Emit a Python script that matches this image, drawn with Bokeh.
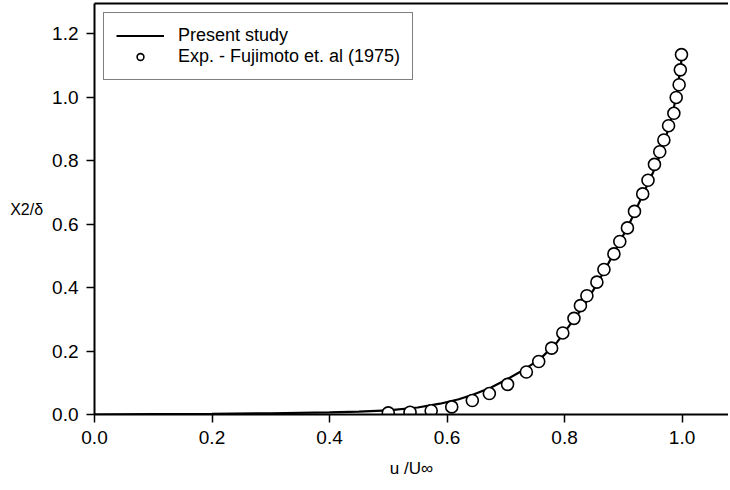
from bokeh.plotting import figure
from bokeh.models import (Range1d, LinearAxis, FixedTicker, PrintfTickFormatter,
                          Legend, LegendItem)
from bokeh.embed import file_html
from bokeh.resources import INLINE

# ---- data ----
line_x = [0.0, 0.1, 0.2, 0.3, 0.4, 0.45, 0.5, 0.55, 0.588, 0.62, 0.645, 0.675,
          0.702, 0.73, 0.759, 0.787, 0.81, 0.83, 0.85, 0.87, 0.89, 0.91, 0.93,
          0.95, 0.965, 0.98, 0.99, 1.0]
line_y = [0.0, 0.001, 0.002, 0.004, 0.007, 0.009, 0.013, 0.022, 0.034, 0.048,
          0.063, 0.085, 0.111, 0.140, 0.176, 0.227, 0.285, 0.335, 0.395, 0.46,
          0.53, 0.60, 0.68, 0.76, 0.83, 0.92, 1.0, 1.13]

exp_x = [0.500, 0.537, 0.573, 0.608, 0.643, 0.672, 0.703, 0.735, 0.756, 0.778,
         0.797, 0.816, 0.827, 0.838, 0.855, 0.867, 0.884, 0.894, 0.907, 0.919,
         0.933, 0.942, 0.953, 0.962, 0.969, 0.977, 0.986, 0.990, 0.995, 0.997,
         0.999]
exp_y = [0.005, 0.007, 0.012, 0.024, 0.044, 0.066, 0.095, 0.134, 0.167, 0.209,
         0.257, 0.303, 0.343, 0.374, 0.417, 0.457, 0.506, 0.545, 0.588, 0.640,
         0.695, 0.738, 0.788, 0.828, 0.865, 0.910, 0.949, 0.999, 1.039, 1.086,
         1.134]

x_ticks = [0.0, 0.2, 0.4, 0.6, 0.8, 1.0]
y_ticks = [0.0, 0.2, 0.4, 0.6, 0.8, 1.0, 1.2]

series_names = ["Present study", "Exp. - Fujimoto et. al (1975)"]
x_label = "u /U\u221e"
y_label = "X2/\u03b4"

FONT = "Liberation Sans"
W, H = 728, 488
BL, BB, BT = 94, 74, 3

p = figure(width=W, height=H, output_backend="svg", toolbar_location=None,
           x_range=Range1d(0, 1.079), y_range=Range1d(0, 1.295),
           min_border_left=BL, min_border_right=0, min_border_top=BT,
           min_border_bottom=BB)
p.xgrid.visible = False
p.ygrid.visible = False
p.outline_line_color = None
p.background_fill_color = "white"
p.border_fill_color = "white"

for ax, ticks in ((p.xaxis[0], x_ticks), (p.yaxis[0], y_ticks)):
    ax.ticker = FixedTicker(ticks=ticks)
    ax.formatter = PrintfTickFormatter(format="%.1f")
    ax.axis_line_width = 2
    ax.axis_line_color = "black"
    ax.major_tick_line_width = 1.5
    ax.major_tick_line_color = "black"
    ax.major_tick_out = 8
    ax.major_tick_in = 0
    ax.minor_tick_line_color = None
    ax.major_label_text_font = FONT
    ax.major_label_text_font_size = "19px"
    ax.major_label_text_color = "black"
    ax.major_label_standoff = 8
    ax.axis_label_text_font = FONT
    ax.axis_label_text_font_style = "normal"
    ax.axis_label_text_color = "black"

p.xaxis[0].axis_label = x_label
p.xaxis[0].axis_label_text_font_size = "17px"
p.xaxis[0].axis_label_standoff = 12

p.yaxis[0].axis_label = y_label
p.yaxis[0].axis_label_text_font_size = "16px"
p.yaxis[0].axis_label_orientation = "horizontal"
p.yaxis[0].axis_label_standoff = 6
p.yaxis[0].axis_label_text_baseline = "bottom"

top = LinearAxis(ticker=FixedTicker(ticks=[]), major_label_text_font_size="0px",
                 axis_line_width=2, axis_line_color="black",
                 major_tick_line_color=None, minor_tick_line_color=None,
                 major_tick_out=0, major_tick_in=0, minor_tick_out=0,
                 minor_tick_in=0, major_label_standoff=0, axis_label_standoff=0)
p.add_layout(top, "above")

p.line(line_x, line_y, line_color="black", line_width=2.2)
p.scatter(exp_x, exp_y, marker="circle", size=12, fill_color="white",
          line_color="black", line_width=1.6)

# legend-only renderers (placed outside the visible ranges)
leg_line = p.line([-2, -1], [-2, -1], line_color="black", line_width=2.2)
leg_circ = p.scatter([-2], [-2], marker="circle", size=8, fill_color="white",
                     line_color="black", line_width=1.6)

legend = Legend(items=[LegendItem(label=series_names[0], renderers=[leg_line]),
                       LegendItem(label=series_names[1], renderers=[leg_circ])],
                location="top_left", margin=9, padding=12, spacing=0,
                glyph_width=48, glyph_height=17, label_height=17,
                label_standoff=14, label_text_font=FONT,
                label_text_font_size="18px", label_text_color="black",
                border_line_color="black", border_line_width=1.5,
                background_fill_color="white", background_fill_alpha=1.0)
p.add_layout(legend)

open("out.html", "w").write(file_html(p, INLINE))
